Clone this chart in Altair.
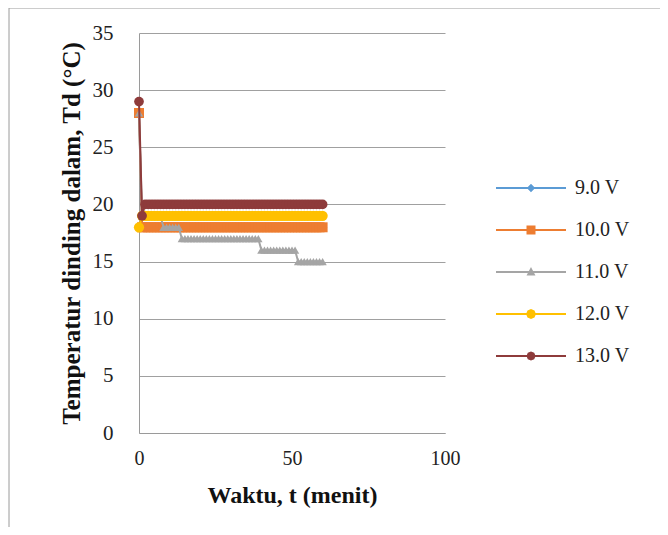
import altair as alt
import pandas as pd

# ---- data ----
series_names = ["9.0 V", "10.0 V", "11.0 V", "12.0 V", "13.0 V"]
series_colors = ["#5B9BD5", "#ED7D31", "#A5A5A5", "#FFC000", "#8E3B3B"]
series_shapes = ["diamond", "square", "triangle-up", "circle", "circle"]
marker_sizes = [90, 100, 70, 105, 95]

time_min = list(range(0, 61))

v_9 = [28, 18, 18, 18, 18, 18, 18, 18, 18, 18, 18, 18, 18, 18, 18, 18, 18, 18, 18, 18,
       18, 18, 18, 18, 18, 18, 18, 18, 18, 18, 18, 18, 18, 18, 18, 18, 18, 18, 18, 18,
       18, 18, 18, 18, 18, 18, 18, 18, 18, 18, 18, 18, 18, 18, 18, 18, 18, 18, 18, 18, 18]
v_10 = [28, 18, 18, 18, 18, 18, 18, 18, 18, 18, 18, 18, 18, 18, 18, 18, 18, 18, 18, 18,
        18, 18, 18, 18, 18, 18, 18, 18, 18, 18, 18, 18, 18, 18, 18, 18, 18, 18, 18, 18,
        18, 18, 18, 18, 18, 18, 18, 18, 18, 18, 18, 18, 18, 18, 18, 18, 18, 18, 18, 18, 18]
v_11 = [28, 19, 19, 19, 19, 19, 19, 19, 18, 18, 18, 18, 18, 18, 17, 17, 17, 17, 17, 17,
        17, 17, 17, 17, 17, 17, 17, 17, 17, 17, 17, 17, 17, 17, 17, 17, 17, 17, 17, 17,
        16, 16, 16, 16, 16, 16, 16, 16, 16, 16, 16, 16, 15, 15, 15, 15, 15, 15, 15, 15, 15]
v_12 = [18, 19, 19, 19, 19, 19, 19, 19, 19, 19, 19, 19, 19, 19, 19, 19, 19, 19, 19, 19,
        19, 19, 19, 19, 19, 19, 19, 19, 19, 19, 19, 19, 19, 19, 19, 19, 19, 19, 19, 19,
        19, 19, 19, 19, 19, 19, 19, 19, 19, 19, 19, 19, 19, 19, 19, 19, 19, 19, 19, 19, 19]
v_13 = [29, 19, 20, 20, 20, 20, 20, 20, 20, 20, 20, 20, 20, 20, 20, 20, 20, 20, 20, 20,
        20, 20, 20, 20, 20, 20, 20, 20, 20, 20, 20, 20, 20, 20, 20, 20, 20, 20, 20, 20,
        20, 20, 20, 20, 20, 20, 20, 20, 20, 20, 20, 20, 20, 20, 20, 20, 20, 20, 20, 20, 20]

x_ticks = [0, 50, 100]
y_ticks = [0, 5, 10, 15, 20, 25, 30, 35]

all_values = [v_9, v_10, v_11, v_12, v_13]
rows = []
for name, vals in zip(series_names, all_values):
    for t, v in zip(time_min, vals):
        rows.append({"t": t, "T": v, "series": name})
df = pd.DataFrame(rows)

FONT = "Liberation Serif"

# legend symbol paths: line + marker (unit coords, x from -1 to 1)
legend_paths = {
    "9.0 V": "M-1,0L1,0M0,-0.08L0.08,0L0,0.08L-0.08,0Z",
    "10.0 V": "M-1,0L1,0M-0.1,-0.1L0.1,-0.1L0.1,0.1L-0.1,0.1Z",
    "11.0 V": "M-1,0L1,0M0,-0.08L0.08,0.07L-0.08,0.07Z",
    "12.0 V": "M-1,0L1,0M0.11,0L0.078,0.078L0,0.11L-0.078,0.078L-0.11,0L-0.078,-0.078L0,-0.11L0.078,-0.078Z",
    "13.0 V": "M-1,0L1,0M0.1,0L0.07,0.07L0,0.1L-0.07,0.07L-0.1,0L-0.07,-0.07L0,-0.1L0.07,-0.07Z",
}
shape_expr = "'M-1,0L1,0'"
for name in reversed(series_names):
    shape_expr = f"datum.value === '{name}' ? '{legend_paths[name]}' : ({shape_expr})"

color_scale = alt.Scale(domain=series_names, range=series_colors)
legend = alt.Legend(
    title=None,
    orient="none",
    legendX=356,
    legendY=145,
    symbolSize=4900,
    symbolStrokeWidth=2,
    symbolType={"expr": shape_expr},
    symbolFillColor={"expr": "scale('color', datum.value)"},
    symbolStrokeColor={"expr": "scale('color', datum.value)"},
    symbolOpacity=1,
    labelFont=FONT,
    labelFontSize=20,
    labelColor="#222222",
    labelOffset=8,
    clipHeight=20,
    rowPadding=22,
)

x_enc = alt.X(
    "t:Q",
    scale=alt.Scale(domain=[0, 100], nice=False),
    axis=alt.Axis(
        values=x_ticks,
        title="Waktu, t (menit)",
        grid=False,
        ticks=False,
        labelFlush=False,
        labelFont=FONT,
        labelFontSize=20,
        labelPadding=15,
        titleFont=FONT,
        titleFontSize=24,
        titlePadding=15,
        domainColor="#9a9a9a",
    ),
)
y_enc = alt.Y(
    "T:Q",
    scale=alt.Scale(domain=[0, 35], nice=False),
    axis=alt.Axis(
        values=y_ticks,
        title="Temperatur dinding dalam, Td (°C)",
        grid=True,
        gridColor="#a0a0a0",
        ticks=False,
        labelFlush=False,
        labelFont=FONT,
        labelFontSize=21,
        labelPadding=26,
        titleFont=FONT,
        titleFontSize=25,
        titlePadding=8,
        domainColor="#9a9a9a",
    ),
)

base = alt.Chart(df)
layers = []
for name, shp, sz in zip(series_names, series_shapes, marker_sizes):
    sub = base.transform_filter(alt.datum.series == name)
    line = sub.mark_line(strokeWidth=2).encode(
        x=x_enc, y=y_enc,
        color=alt.Color("series:N", scale=color_scale, legend=legend),
    )
    pts = sub.mark_point(filled=True, shape=shp, size=sz, opacity=1).encode(
        x=x_enc, y=y_enc,
        color=alt.Color("series:N", scale=color_scale, legend=legend),
    )
    layers += [line, pts]

frame_top = alt.Chart(pd.DataFrame({"k": [0]})).mark_rule(color="#9a9a9a", strokeWidth=1).encode(
    x=alt.value(-130), x2=alt.value(530), y=alt.value(-25)
)
frame_left = alt.Chart(pd.DataFrame({"k": [0]})).mark_rule(color="#9a9a9a", strokeWidth=1).encode(
    x=alt.value(-130), y=alt.value(-25), y2=alt.value(495)
)

chart = alt.layer(*layers, frame_top, frame_left).properties(
    width=306,
    height=400,
    autosize="none",
    padding={"left": 131, "top": 25, "right": 215, "bottom": 94},
).configure_view(stroke=None).configure_axis(
    labelColor="#222222",
    titleFontWeight="bold",
    titleColor="#111111",
)

chart.save("out.html", embed_options={"renderer": "svg", "actions": False})
